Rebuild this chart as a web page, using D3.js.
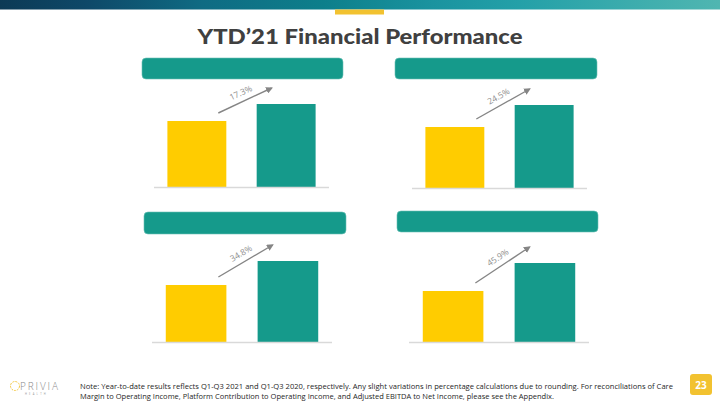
<!DOCTYPE html>
<html>
<head>
<meta charset="utf-8">
<script src="https://cdn.jsdelivr.net/npm/d3@7"></script>
<style>
  html, body { margin: 0; padding: 0; background: #ffffff; }
  svg { display: block; }
</style>
</head>
<body>
<svg id="chart" width="720" height="405"></svg>
<script>
// ---- Data ----
const periods = ["YTD 2020", "YTD 2021"];
const values2020 = [66, 61, 57, 51];
const values2021 = [83, 83, 81, 79];
const growthLabels = ["17.3%", "24.5%", "34.8%", "45.9%"];
const titleText = "YTD\u201921 Financial Performance";
const noteLines = [
  "Note: Year-to-date results reflects Q1-Q3 2021 and Q1-Q3 2020, respectively.  Any slight variations in percentage calculations due to rounding.  For reconciliations of Care",
  "Margin to Operating Income, Platform Contribution to Operating Income, and Adjusted EBITDA to Net Income, please see the Appendix."
];
const pageNumber = "23";

// ---- Layout ----
const panels = [
  { hx: 142, hy: 58, hw: 201, hh: 21, bx: 154, by: 187, bw: 175 },
  { hx: 395, hy: 58, hw: 202, hh: 21, bx: 412, by: 188, bw: 175 },
  { hx: 144, hy: 212, hw: 202, hh: 22, bx: 152, by: 342, bw: 180 },
  { hx: 397, hy: 211, hw: 201, hh: 21, bx: 409, by: 342, bw: 180 }
];
const TEAL = "#159a8b";
const YELLOW = "#ffcc00";
const GREY_ARROW = "#858585";

const svg = d3.select("#chart");
const defs = svg.append("defs");

// top gradient band
const grad = defs.append("linearGradient").attr("id", "topGrad")
  .attr("x1", "0%").attr("x2", "100%").attr("y1", "0%").attr("y2", "0%");
[["0%", "#0c3a55"], ["12%", "#0e4868"], ["28%", "#0f6b83"], ["45%", "#0d7f8b"], ["60%", "#1a939f"], ["72%", "#23a0a8"], ["100%", "#50b6b1"]]
  .forEach(([o, c]) => grad.append("stop").attr("offset", o).attr("stop-color", c));
svg.append("rect").attr("x", 0).attr("y", 0).attr("width", 720).attr("height", 9.5).attr("fill", "url(#topGrad)");
svg.append("rect").attr("x", 335).attr("y", 9.5).attr("width", 49).attr("height", 5).attr("fill", "#f2c230");

// arrowhead marker
defs.append("marker").attr("id", "arrowHead")
  .attr("viewBox", "0 0 10 10").attr("refX", 8).attr("refY", 5)
  .attr("markerWidth", 5).attr("markerHeight", 5).attr("orient", "auto")
  .append("path").attr("d", "M0,0 L10,5 L0,10 z").attr("fill", GREY_ARROW);

// title
svg.append("text")
  .attr("x", 360).attr("y", 44)
  .attr("text-anchor", "middle")
  .attr("font-family", "Lato, 'Open Sans', sans-serif")
  .attr("font-weight", 900)
  .attr("font-size", 21.5)
  .attr("fill", "#404040")
  .attr("textLength", 325).attr("lengthAdjust", "spacingAndGlyphs")
  .text(titleText);

// panels
panels.forEach((p, i) => {
  const g = svg.append("g");
  // header bar
  g.append("rect")
    .attr("x", p.hx).attr("y", p.hy).attr("width", p.hw).attr("height", p.hh)
    .attr("rx", 4).attr("ry", 4)
    .attr("fill", TEAL).attr("stroke", "#6cc1b6").attr("stroke-width", 0.6);

  const x = d3.scaleBand().domain(periods)
    .range([p.bx, p.bx + p.bw]).paddingInner(0.34).paddingOuter(0.15);
  const y = d3.scaleLinear().domain([0, 100]).range([p.by, p.by - 100]);
  const vals = [values2020[i], values2021[i]];

  g.selectAll("rect.bar").data(periods).join("rect")
    .attr("class", "bar")
    .attr("x", d => x(d))
    .attr("y", (d, j) => y(vals[j]))
    .attr("width", x.bandwidth())
    .attr("height", (d, j) => y(0) - y(vals[j]))
    .attr("fill", (d, j) => j === 0 ? YELLOW : TEAL);

  // baseline
  g.append("line")
    .attr("x1", p.bx).attr("x2", p.bx + p.bw)
    .attr("y1", y(0) + 0.5).attr("y2", y(0) + 0.5)
    .attr("stroke", "#d9d9d9").attr("stroke-width", 1.5);

  // growth arrow
  const x1 = x(periods[0]) + x.bandwidth() - 8, y1 = y(vals[0]) - 8;
  const x2 = x(periods[1]) + 15, y2 = y(vals[1]) - 16;
  g.append("line")
    .attr("x1", x1).attr("y1", y1).attr("x2", x2).attr("y2", y2)
    .attr("stroke", GREY_ARROW).attr("stroke-width", 1.4)
    .attr("marker-end", "url(#arrowHead)");
  const ang = Math.atan2(y2 - y1, x2 - x1) * 180 / Math.PI;
  const mx = (x1 + x2) / 2, my = (y1 + y2) / 2;
  g.append("text")
    .attr("transform", `translate(${mx - 3},${my - 5}) rotate(${ang})`)
    .attr("text-anchor", "middle")
    .attr("font-family", "'Open Sans', sans-serif")
    .attr("font-size", 8.5)
    .attr("fill", "#8f8f8f")
    .text(growthLabels[i]);
});

// footer note
svg.append("g").selectAll("text").data(noteLines).join("text")
  .attr("x", 80).attr("y", (d, i) => 388.5 + i * 10)
  .attr("font-family", "'Open Sans', sans-serif")
  .attr("font-size", 7.3)
  .attr("fill", "#262626")
  .attr("textLength", (d, i) => i === 0 ? 593 : 474)
  .attr("lengthAdjust", "spacingAndGlyphs")
  .text(d => d);

// logo
const logo = svg.append("g");
logo.append("circle").attr("cx", 15).attr("cy", 386).attr("r", 4.5)
  .attr("fill", "none").attr("stroke", "#f2c230").attr("stroke-width", 0.9)
  .attr("stroke-dasharray", "2,1");
logo.append("text").attr("x", 20).attr("y", 390)
  .attr("font-family", "'Open Sans', sans-serif").attr("font-weight", 300)
  .attr("font-size", 10).attr("fill", "#8a8a8a")
  .attr("textLength", 38).attr("lengthAdjust", "spacing")
  .text("PRIVIA");
logo.append("text").attr("x", 25).attr("y", 394.5)
  .attr("font-family", "'Open Sans', sans-serif")
  .attr("font-size", 2.6).attr("fill", "#9a9a9a").attr("letter-spacing", 2.2)
  .text("HEALTH");

// page number
svg.append("rect").attr("x", 690).attr("y", 374).attr("width", 22).attr("height", 21)
  .attr("rx", 3).attr("fill", "#f2c230");
svg.append("text").attr("x", 701).attr("y", 388.5).attr("text-anchor", "middle")
  .attr("font-family", "'Open Sans', sans-serif").attr("font-weight", 700)
  .attr("font-size", 10).attr("fill", "#ffffff").text(pageNumber);
</script>
</body>
</html>
